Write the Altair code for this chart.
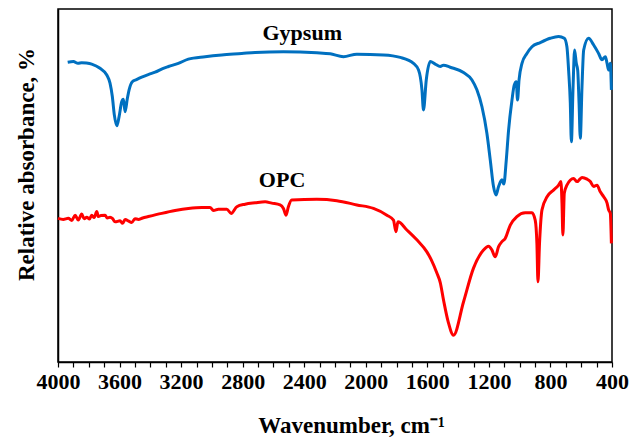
import altair as alt
import pandas as pd

# FTIR spectra (wavenumber in cm^-1, relative absorbance in arbitrary units)
gypsum_wn = [3937, 3900, 3870, 3846, 3815, 3781, 3727, 3683, 3662, 3647, 3634, 3618, 3603,
             3586, 3575, 3564, 3550, 3538, 3517, 3490, 3456, 3410, 3369, 3320, 3282, 3218, 3153,
             3044, 2936, 2806, 2719, 2535, 2318, 2231, 2145, 2058, 1885,
             1776, 1690, 1657, 1635, 1625, 1607, 1581, 1549, 1516, 1495,
             1451, 1365, 1310, 1278, 1245, 1213, 1191, 1170, 1154, 1137,
             1115, 1103, 1087, 1072, 1050, 1035, 1022, 1014, 1004, 985,
             953, 920, 866, 801, 747, 710, 693, 682, 671, 664,
             653, 643, 632, 623, 614, 606, 595, 584, 552, 519,
             487, 465, 443, 432, 422, 411, 404]
gypsum_abs = [84.9, 85.1, 84.6, 84.8, 84.7, 84.4, 83.2, 81.3, 79.0, 75.2, 70.0, 66.9, 69.5,
              73.7, 74.4, 70.9, 74.5, 77.1, 79.4, 80.0, 80.7, 81.5, 82.1, 83.1, 83.7, 84.6, 85.8,
              86.5, 87.0, 87.4, 87.7, 87.9, 87.6, 87.3, 86.5, 87.2, 87.0,
              86.3, 84.6, 82.7, 77.1, 71.4, 79.9, 85.1, 84.4, 83.7, 84.1,
              83.5, 82.0, 79.9, 77.1, 72.3, 64.8, 57.2, 49.7, 47.3, 49.7,
              51.6, 50.4, 57.2, 65.7, 74.2, 78.5, 79.4, 74.2, 79.9, 84.6,
              87.4, 89.3, 90.5, 91.7, 92.2, 91.7, 89.3, 82.7, 73.4, 62.4,
              78.0, 88.4, 84.6, 82.7, 73.3, 63.4, 78.0, 88.4, 91.7, 89.8,
              87.4, 85.6, 86.5, 84.6, 82.7, 84.6, 77.1]

opc_wn = [4000, 3966, 3933, 3910, 3889, 3868, 3846, 3830, 3813, 3795, 3781, 3765, 3748, 3738,
          3720, 3694, 3680, 3662, 3645, 3629, 3597, 3580, 3564, 3540, 3521, 3500, 3478, 3450,
          3413, 3326, 3239, 3153,
          3066, 3012, 2990, 2958, 2903, 2875, 2838, 2784, 2719, 2654,
          2611, 2557, 2535, 2518, 2503, 2481, 2318, 2188, 2058, 1950,
          1863, 1820, 1804, 1791, 1733, 1668, 1603, 1575, 1538, 1516,
          1495, 1464, 1430, 1365, 1300, 1235, 1202, 1180, 1159, 1137,
          1115, 1094, 1061, 1018, 964, 920, 899, 888, 881, 871,
          855, 822, 780, 747, 732, 725, 719, 710, 693, 650,
          627, 595, 562, 541, 519, 497, 476, 454, 432, 422,
          411, 404]
opc_abs = [40.7, 40.4, 40.7, 40.1, 41.6, 40.2, 41.9, 40.6, 41.0, 40.5, 41.6, 40.9, 42.6, 41.2,
           41.5, 41.6, 40.8, 41.0, 40.6, 39.7, 40.0, 39.3, 40.4, 39.9, 39.5, 40.6, 40.4, 40.8,
           41.2, 42.1, 42.9, 43.5,
           43.8, 43.8, 42.9, 43.3, 43.3, 42.1, 44.0, 44.7, 45.1, 45.4,
           45.0, 44.5, 43.5, 41.6, 44.0, 45.9, 46.1, 45.7, 44.5, 43.5,
           41.6, 40.2, 36.9, 39.7, 37.4, 34.6, 31.2, 29.0, 25.2, 22.5,
           17.6, 11.3, 7.6, 17.0, 26.6, 31.7, 32.8, 31.7, 29.8, 32.7,
           34.1, 35.0, 38.8, 41.2, 42.3, 42.3, 40.2, 33.6, 22.7, 33.6,
           43.1, 46.8, 48.7, 50.1, 51.1, 45.0, 36.0, 47.8, 50.1, 52.0,
           51.1, 52.3, 51.8, 51.1, 49.7, 50.1, 48.2, 46.8, 45.0, 43.1,
           42.1, 33.6]

label_names = ["Gypsum", "OPC"]
label_wn = [2413, 2544]
label_abs = [91.2, 49.6]

x_ticks = list(range(400, 4001, 100))

spectra = pd.concat([
    pd.DataFrame({"wavenumber": gypsum_wn, "absorbance": gypsum_abs, "sample": "Gypsum"}),
    pd.DataFrame({"wavenumber": opc_wn, "absorbance": opc_abs, "sample": "OPC"}),
], ignore_index=True)
labels = pd.DataFrame({"wavenumber": label_wn, "absorbance": label_abs, "text": label_names})

FONT = "Liberation Serif"

x = alt.X(
    "wavenumber:Q",
    scale=alt.Scale(domain=[400, 4000], reverse=True, nice=False, zero=False),
    axis=alt.Axis(
        values=x_ticks, format="d",
        labelExpr="datum.value % 400 === 0 ? datum.label : ''",
        labelOverlap=False, labelFlush=False,
        grid=False, tickSize=5, tickColor="black", tickWidth=1.2,
        domainColor="black", domainWidth=1.5,
        labelFont=FONT, labelFontSize=22, labelFontWeight="bold",
        labelColor="black", labelPadding=4,
        title="Wavenumber, cm\u207b\u00b9",
        titleFont=FONT, titleFontSize=23, titleFontWeight="bold", titleColor="black",
        titleX=293, titleY=70, titleBaseline="alphabetic", titleAlign="center",
    ),
)
y = alt.Y(
    "absorbance:Q",
    scale=alt.Scale(domain=[0, 100], nice=False, zero=False),
    axis=alt.Axis(
        labels=False, ticks=False, grid=False,
        domainColor="black", domainWidth=1.5,
        title="Relative absorbance, %",
        titleFont=FONT, titleFontSize=23, titleFontWeight="bold", titleColor="black",
        titleX=-25, titleY=155, titleBaseline="alphabetic", titleAlign="center",
    ),
)

lines = alt.Chart(spectra).mark_line(strokeWidth=3, interpolate="monotone").encode(
    x=x,
    y=y,
    color=alt.Color("sample:N",
                    scale=alt.Scale(domain=["Gypsum", "OPC"], range=["#0070C0", "#FF0000"]),
                    legend=None),
)

names = alt.Chart(labels).mark_text(
    font=FONT, fontSize=22, fontWeight="bold", color="black",
    align="center", baseline="alphabetic",
).encode(x=x, y=y, text="text:N")

chart = (
    alt.layer(lines, names)
    .properties(
        width=554, height=353,
        padding={"left": 58, "top": 9, "right": 29, "bottom": 75},
        autosize=alt.AutoSizeParams(type="none"),
        background="white",
    )
    .configure_view(stroke="black", strokeWidth=1.5)
)

chart.save("out.html", embed_options={"renderer": "svg", "actions": False})
